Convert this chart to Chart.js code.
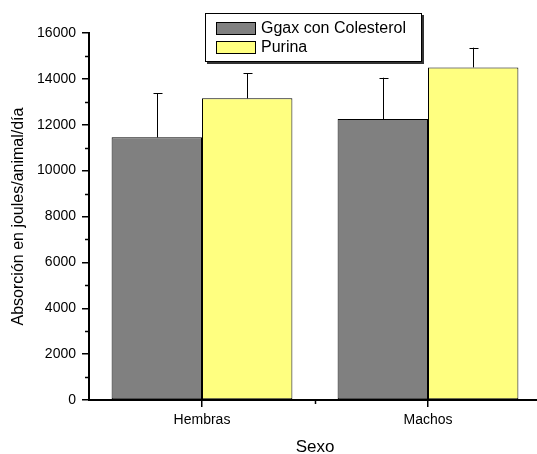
<!DOCTYPE html>
<html><head><meta charset="utf-8">
<script src="https://cdn.jsdelivr.net/npm/chart.js@4/dist/chart.umd.min.js"></script>
<style>
html,body{margin:0;padding:0;background:#fff;overflow:hidden;}
#wrap{width:545px;height:454px;position:relative;}
</style></head>
<body><div id="wrap"><canvas id="c"></canvas></div>
<script>
const categories = ['Hembras', 'Machos'];
const seriesNames = ['Ggax con Colesterol', 'Purina'];
const ggax = [11450, 12250];
const purina = [13150, 14500];
const ggaxErr = [1920, 1800];
const purinaErr = [1090, 860];
const yTicks = [0, 2000, 4000, 6000, 8000, 10000, 12000, 14000, 16000];

const FONT = '"Liberation Sans", Arial, sans-serif';

const decor = {
  id: 'decor',
  afterDatasetsDraw(chart) {
    const ctx = chart.ctx;
    const ys = chart.scales.y, xs = chart.scales.x;
    ctx.save();
    // error bars
    chart.data.datasets.forEach((ds, di) => {
      const meta = chart.getDatasetMeta(di);
      meta.data.forEach((bar, i) => {
        const top = ys.getPixelForValue(ds.data[i] + ds.err[i]);
        const x = Math.round(bar.x) + 0.5;
        ctx.strokeStyle = '#000';
        ctx.lineWidth = 1;
        ctx.beginPath();
        ctx.moveTo(x, bar.y);
        ctx.lineTo(x, top);
        ctx.moveTo(x - 4, Math.round(top) + 0.5);
        ctx.lineTo(x + 5, Math.round(top) + 0.5);
        ctx.stroke();
      });
    });
    // minor y ticks
    ctx.strokeStyle = '#000';
    ctx.lineWidth = 1.5;
    for (let v = 1000; v < 16000; v += 2000) {
      const y = Math.round(ys.getPixelForValue(v)) + 0.5;
      ctx.beginPath();
      ctx.moveTo(chart.chartArea.left - 4, y);
      ctx.lineTo(chart.chartArea.left, y);
      ctx.stroke();
    }
    // minor x tick between categories
    const xm = Math.round((xs.getPixelForValue(0) + xs.getPixelForValue(1)) / 2) + 0.5;
    ctx.beginPath();
    ctx.moveTo(xm, chart.chartArea.bottom);
    ctx.lineTo(xm, chart.chartArea.bottom + 4);
    ctx.stroke();
    // legend
    const lx = 205, ly = 13, lw = 217, lh = 49;
    ctx.fillStyle = '#333';
    ctx.fillRect(lx + 2, ly + 2, lw, lh);
    ctx.fillStyle = '#fff';
    ctx.fillRect(lx, ly, lw, lh);
    ctx.strokeStyle = '#000';
    ctx.lineWidth = 1;
    ctx.strokeRect(lx + 0.5, ly + 0.5, lw - 1, lh - 1);
    const rows = [22, 41];
    chart.data.datasets.forEach((ds, di) => {
      const sy = rows[di];
      ctx.fillStyle = ds.backgroundColor;
      ctx.fillRect(216, sy, 40, 13);
      ctx.strokeStyle = '#000';
      ctx.strokeRect(216.5, sy + 0.5, 39, 12);
      ctx.fillStyle = '#000';
      ctx.font = '16px ' + FONT;
      ctx.textBaseline = 'middle';
      ctx.textAlign = 'left';
      ctx.fillText(ds.label, 261, sy + 7);
    });
    ctx.restore();
  }
};

new Chart(document.getElementById('c'), {
  type: 'bar',
  data: {
    labels: categories,
    datasets: [
      { label: seriesNames[0], data: ggax, err: ggaxErr, backgroundColor: '#808080', borderColor: '#000', borderWidth: 1, borderSkipped: false },
      { label: seriesNames[1], data: purina, err: purinaErr, backgroundColor: '#FFFF80', borderColor: '#000', borderWidth: 1, borderSkipped: false }
    ]
  },
  options: {
    responsive: true,
    maintainAspectRatio: false,
    animation: false,
    layout: { padding: { left: 0, right: 4, top: 33, bottom: 0 } },
    categoryPercentage: 0.8,
    barPercentage: 1.0,
    plugins: { legend: { display: false }, tooltip: { enabled: false } },
    scales: {
      x: {
        grid: { offset: false, drawOnChartArea: false, drawTicks: true, tickLength: 7, color: '#000', lineWidth: 1.5 },
        border: { display: true, color: '#000', width: 2 },
        ticks: { color: '#000', font: { family: FONT, size: 14 }, padding: 5, maxRotation: 0 },
        title: { display: true, text: 'Sexo', color: '#000', font: { family: FONT, size: 17, lineHeight: 1 }, padding: { top: 0, bottom: -2 } },
        afterFit(s) { s.height = 54; }
      },
      y: {
        min: 0, max: 16000,
        afterBuildTicks(s) { s.ticks = yTicks.map(v => ({ value: v })); },
        grid: { drawOnChartArea: false, drawTicks: true, tickLength: 7, color: '#000', lineWidth: 1.5 },
        border: { display: true, color: '#000', width: 2 },
        ticks: { color: '#000', font: { family: FONT, size: 14 }, padding: 6, callback: v => String(v) },
        title: { display: true, text: 'Absorción en joules/animal/día', color: '#000', font: { family: FONT, size: 16, lineHeight: 1 }, padding: { top: 11, bottom: 0 } },
        afterFit(s) { s.width = 89; }
      }
    }
  },
  plugins: [decor]
});
</script></body></html>
